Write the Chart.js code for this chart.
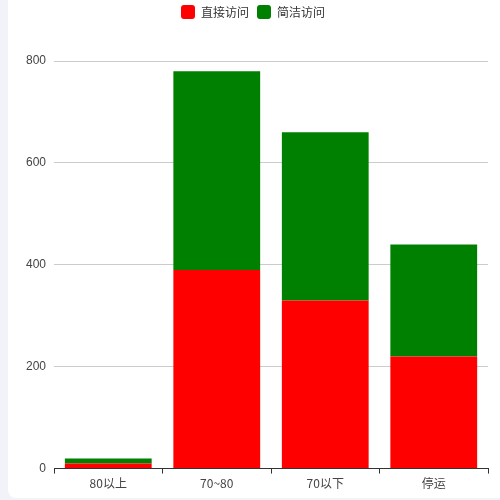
<!DOCTYPE html>
<html><head><meta charset="utf-8">
<script src="https://cdn.jsdelivr.net/npm/chart.js@4"></script>
<style>
html,body{margin:0;padding:0;background:#f2f3f8;width:500px;height:500px;overflow:hidden}
#card{position:absolute;left:8px;top:-10px;width:500px;height:508px;background:#fff;border-radius:8px}
#wrap{position:absolute;left:0;top:0;width:500px;height:500px}
</style></head><body>
<div id="card"></div>
<div id="wrap"><canvas id="c" width="500" height="500"></canvas></div>
<script>
const categories=["80以上","70~80","70以下","停运"];
const directValues=[10,390,330,220];
const cleanValues=[10,390,330,220];
const seriesNames=["直接访问","简洁访问"];
const yTicks=[0,200,400,600,800];
const legendPad={id:'lp',beforeInit(c){const f=c.legend.fit;c.legend.fit=function(){f.bind(c.legend)();this.height+=32;};}};
new Chart(document.getElementById('c'),{
type:'bar',
data:{labels:categories,datasets:[
{label:seriesNames[0],data:directValues,backgroundColor:'#ff0000',borderWidth:0,barPercentage:0.8,categoryPercentage:1},
{label:seriesNames[1],data:cleanValues,backgroundColor:'#008000',borderWidth:0,barPercentage:0.8,categoryPercentage:1}]},
options:{responsive:false,animation:false,devicePixelRatio:1,
layout:{padding:{left:18,right:12,top:-3,bottom:6}},
plugins:{tooltip:{enabled:false},legend:{position:'top',labels:{boxWidth:14,boxHeight:14,useBorderRadius:true,borderRadius:3,font:{size:12,family:'"Noto Sans CJK SC",sans-serif'},color:'#333',padding:8}}},
scales:{
x:{stacked:true,offset:true,grid:{display:true,drawOnChartArea:false,drawTicks:true,tickLength:5,color:'#333',offset:true},border:{color:'#333'},ticks:{color:'#444',font:{size:12,family:'"Noto Sans CJK SC",sans-serif'}}},
y:{stacked:true,min:0,max:800,afterBuildTicks(a){a.ticks=yTicks.map(v=>({value:v}));},grid:{color:'#ccc',drawTicks:false},border:{display:false},ticks:{color:'#444',padding:8,font:{size:12}}}
}},
plugins:[legendPad]
});
</script></body></html>
